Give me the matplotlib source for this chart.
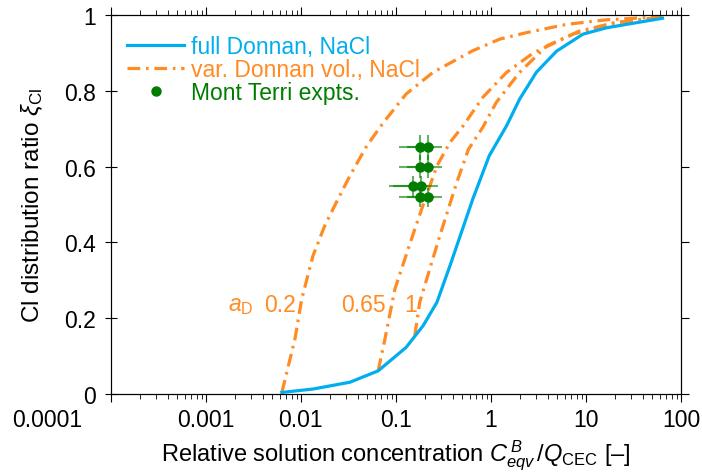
import numpy as np
import matplotlib
matplotlib.use('Agg')
import matplotlib.pyplot as plt
import matplotlib.transforms as mtransforms
from matplotlib.ticker import LogLocator, FixedLocator, NullFormatter, FuncFormatter, MultipleLocator

plt.rcParams['font.family'] = ['Liberation Sans', 'DejaVu Sans']
plt.rcParams['mathtext.fontset'] = 'custom'
plt.rcParams['mathtext.rm'] = 'Liberation Sans'
plt.rcParams['mathtext.it'] = 'Liberation Sans:italic'

# full Donnan model, NaCl
donnan_x = [0.0063, 0.0134, 0.0328, 0.065, 0.128, 0.193, 0.27, 0.37, 0.437, 0.645,
            0.96, 1.46, 2.0, 3.0, 4.9, 9.3, 16.6, 64]
donnan_y = [0.004, 0.013, 0.031, 0.061, 0.123, 0.18, 0.242, 0.338, 0.391, 0.515,
            0.629, 0.708, 0.778, 0.849, 0.905, 0.95, 0.967, 0.992]

# variable Donnan volume, NaCl (a_D = 0.2, 0.65, 1)
var02_x = [0.0063, 0.00865, 0.0102, 0.0134, 0.0178, 0.0246, 0.0328, 0.0493, 0.074,
           0.128, 0.245, 0.64, 1.24, 2.37, 6.3, 16.6, 64]
var02_y = [0.004, 0.145, 0.251, 0.365, 0.444, 0.515, 0.576, 0.655, 0.717,
           0.792, 0.849, 0.906, 0.937, 0.954, 0.976, 0.988, 0.996]
var065_x = [0.065, 0.0766, 0.0975, 0.124, 0.158, 0.2, 0.27, 0.37, 0.51, 0.82,
            1.46, 2.78, 7.3, 20, 64]
var065_y = [0.061, 0.145, 0.277, 0.356, 0.435, 0.51, 0.602, 0.664, 0.708, 0.783,
            0.849, 0.90, 0.95, 0.98, 0.995]
var1_x = [0.158, 0.178, 0.227, 0.29, 0.436, 0.58, 0.82, 1.14, 2.0, 3.87, 8.5, 20, 64]
var1_y = [0.154, 0.242, 0.33, 0.418, 0.558, 0.646, 0.704, 0.77, 0.849, 0.919,
          0.958, 0.98, 0.995]

# Mont Terri experiments
exp_x = [0.179, 0.217, 0.179, 0.217, 0.152, 0.184, 0.179, 0.217]
exp_y = [0.651, 0.651, 0.600, 0.600, 0.548, 0.548, 0.519, 0.519]
exp_xerr = [0.072, 0.087, 0.072, 0.087, 0.067, 0.09, 0.072, 0.087]
exp_yerr = [0.032, 0.032, 0.03, 0.03, 0.028, 0.028, 0.026, 0.026]

aD_labels = ['0.2', '0.65', '1']
aD_label_x = [0.0060, 0.0455, 0.144]

x_ticks = [0.0001, 0.001, 0.01, 0.1, 1, 10, 100]
x_ticklabels = ['0.0001', '0.001', '0.01', '0.1', '1', '10', '100']

blue = '#00aeef'
orange = '#ff8b22'
green = '#007d00'

fig = plt.figure(figsize=(7.02, 4.77), dpi=100)
ax = fig.add_axes([0.158, 0.172, 0.812, 0.794])

ax.plot(donnan_x, donnan_y, color=blue, lw=2.3, label='full Donnan, NaCl', zorder=3)
dash = (4, 1.8, 0.8, 1.8)
first = True
for xs, ys in [(var02_x, var02_y), (var065_x, var065_y), (var1_x, var1_y)]:
    ax.plot(xs, ys, color=orange, lw=2.3, dashes=dash, dash_capstyle='butt',
            label='var. Donnan vol., NaCl' if first else None, zorder=2)
    first = False

ax.errorbar(exp_x, exp_y, xerr=exp_xerr, yerr=exp_yerr, fmt='none',
            ecolor=green, elinewidth=1.5, alpha=0.6, zorder=4)
ax.plot(exp_x, exp_y, 'o', color=green, ms=6.5, label='Mont Terri expts.', zorder=5)

# a_D annotations
ax.text(0.00234, 0.237, r'$a_{\mathrm{D}}$', color=orange, fontsize=16.5,
        ha='center', va='center')
for lab, lx in zip(aD_labels, aD_label_x):
    ax.text(lx, 0.237, lab, color=orange, fontsize=16.5, ha='center', va='center')

ax.set_xscale('log')
ax.set_xlim(0.0001, 100)
ax.set_ylim(0, 1)
ax.xaxis.set_major_locator(FixedLocator(x_ticks))
ax.xaxis.set_major_formatter(NullFormatter())
ax.xaxis.set_minor_locator(LogLocator(base=10, subs=np.arange(2, 10), numticks=20))
ax.xaxis.set_minor_formatter(NullFormatter())
ax.yaxis.set_major_locator(MultipleLocator(0.2))
ax.yaxis.set_major_formatter(FuncFormatter(lambda v, p: '%g' % round(v, 2)))

ax.tick_params(axis='x', which='both', direction='out', top=True)
ax.tick_params(axis='x', which='major', length=6)
ax.tick_params(axis='x', which='minor', length=3.5)
ax.tick_params(axis='y', which='major', left=True, right=False, direction='inout',
               length=9, labelsize=16.5, pad=6)

# x tick labels drawn as plain text; the first one sits left of the corner
lab_trans = mtransforms.offset_copy(ax.get_xaxis_transform(), fig=fig, x=0, y=-10,
                                    units='points')
for tx, tl in zip(x_ticks, x_ticklabels):
    if tx == x_ticks[0]:
        ax.text(-0.051, 0, tl, fontsize=16.5, ha='right', va='top',
                transform=mtransforms.offset_copy(ax.transAxes, fig=fig, x=0, y=-10,
                                                  units='points'))
    else:
        ax.text(tx, 0, tl, fontsize=16.5, ha='center', va='top', transform=lab_trans)

ax2 = ax.twinx()
ax2.set_ylim(0, 1)
ax2.yaxis.set_major_locator(MultipleLocator(0.2))
ax2.tick_params(axis='y', direction='out', length=6, labelright=False)

ax.set_xlabel(r'Relative solution concentration $C^{\,B}_{eqv}\,/Q_{\mathrm{CEC}}$ [–]',
              fontsize=17, labelpad=22)
ax.set_ylabel(r'Cl distribution ratio $\xi_{\mathrm{Cl}}$', fontsize=17.5, labelpad=14)

leg = ax.legend(loc='upper left', bbox_to_anchor=(0.0, 0.99), frameon=False,
                fontsize=16.5, handlelength=2.5, handletextpad=0.3, labelspacing=0.0,
                borderaxespad=0.4, borderpad=0.3)
for txt, c in zip(leg.get_texts(), [blue, orange, green]):
    txt.set_color(c)

fig.savefig('out.png', dpi=100)
